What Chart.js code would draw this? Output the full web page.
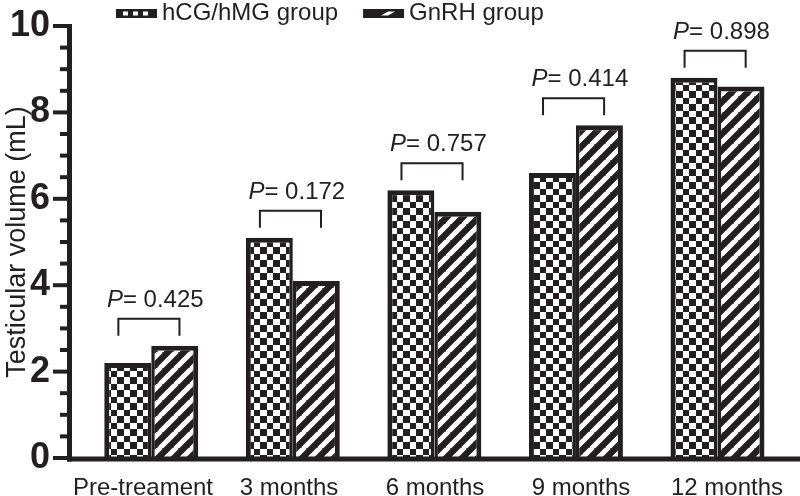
<!DOCTYPE html>
<html>
<head>
<meta charset="utf-8">
<title>Testicular volume</title>
<script src="https://cdn.jsdelivr.net/npm/chart.js@4.4.0/dist/chart.umd.min.js"></script>
<style>
    html, body { margin: 0; padding: 0; background: #fff; }
    #wrap { width: 800px; height: 496px; }
</style>
</head>
<body>
<div id="wrap"><canvas id="volumeChart"></canvas></div>
<script>
// Chart data
const timepoints = ['Pre-treament', '3 months', '6 months', '9 months', '12 months'];
const seriesNames = ['hCG/hMG group', 'GnRH group'];
const hcgValues = [2.2, 5.1, 6.2, 6.6, 8.8];
const gnrhValues = [2.6, 4.1, 5.7, 7.7, 8.6];
const pValues = ['0.425', '0.172', '0.757', '0.414', '0.898'];

const ink = '#231f20';
const fontFamily = "'Liberation Sans', Arial, sans-serif";

document.addEventListener('DOMContentLoaded', function() {
    const canvas = document.getElementById('volumeChart');
    const ctx = canvas.getContext('2d');

    // checkerboard fill for the hCG/hMG bars
    function makeChecker() {
        const c = document.createElement('canvas');
        c.width = 13; c.height = 13;
        const g = c.getContext('2d');
        g.fillStyle = '#fff';
        g.fillRect(0, 0, 13, 13);
        g.fillStyle = ink;
        g.fillRect(0, 0, 7, 7);
        g.fillRect(7, 7, 6, 6);
        return ctx.createPattern(c, 'repeat');
    }

    // diagonal stripes for the GnRH bars
    function makeHatch() {
        const s = 16;
        const c = document.createElement('canvas');
        c.width = s; c.height = s;
        const g = c.getContext('2d');
        g.fillStyle = ink;
        g.fillRect(0, 0, s, s);
        g.strokeStyle = '#fff';
        g.lineWidth = 5;
        g.beginPath();
        [-s, 0, s].forEach(function(o) {
            g.moveTo(o - 1, s + 1);
            g.lineTo(o + s + 1, -1);
        });
        g.stroke();
        return ctx.createPattern(c, 'repeat');
    }

    const checker = makeChecker();
    const hatch = makeHatch();

    const prismAxes = {
        id: 'prismAxes',
        afterDatasetsDraw(chart) {
            const c = chart.ctx;
            const a = chart.chartArea;
            const y = chart.scales.y;
            c.save();
            c.strokeStyle = ink;
            c.fillStyle = ink;

            // y ticks, major every 2 and minor every 0.5
            c.lineWidth = 4;
            for (let v = y.min; v <= y.max; v += 0.5) {
                const py = y.getPixelForValue(v);
                const len = v % 2 === 0 ? 17 : 10;
                c.beginPath();
                c.moveTo(a.left - len, py);
                c.lineTo(a.left, py);
                c.stroke();
            }

            // axis lines
            c.lineWidth = 5;
            c.beginPath();
            c.moveTo(a.left - 0.5, a.top - 2);
            c.lineTo(a.left - 0.5, a.bottom + 3.5);
            c.stroke();
            c.beginPath();
            c.moveTo(a.left - 3, a.bottom + 1);
            c.lineTo(a.right, a.bottom + 1);
            c.stroke();

            // significance brackets
            const m0 = chart.getDatasetMeta(0);
            const m1 = chart.getDatasetMeta(1);
            pValues.forEach(function(p, i) {
                const b0 = m0.data[i];
                const b1 = m1.data[i];
                const top = Math.min(b0.y, b1.y);
                const cx = (b0.x + b1.x) / 2;
                const bw = b0.width;
                const x1 = cx - 0.7 * bw;
                const x2 = cx + 0.6 * bw;
                const legBottom = top - 10;
                const lineY = legBottom - 17;

                c.lineWidth = 2;
                c.beginPath();
                c.moveTo(x1, legBottom);
                c.lineTo(x1, lineY);
                c.lineTo(x2, lineY);
                c.lineTo(x2, legBottom);
                c.stroke();

                const rest = '= ' + p;
                c.font = 'italic 24px ' + fontFamily;
                const wP = c.measureText('P').width;
                c.font = '24px ' + fontFamily;
                const wR = c.measureText(rest).width;
                const start = cx + 4 - (wP + wR) / 2;
                c.textBaseline = 'alphabetic';
                c.textAlign = 'left';
                c.font = 'italic 24px ' + fontFamily;
                c.fillText('P', start, lineY - 12);
                c.font = '24px ' + fontFamily;
                c.fillText(rest, start + wP, lineY - 12);
            });
            c.restore();
        },
        afterDraw(chart) {
            // legend on top
            const c = chart.ctx;
            c.save();
            c.font = '24px ' + fontFamily;
            c.fillStyle = ink;
            c.textBaseline = 'alphabetic';
            let x = 116;
            chart.data.datasets.forEach(function(ds, i) {
                c.fillStyle = ink;
                c.fillRect(x, 9, 41, 9);
                c.fillStyle = '#fff';
                if (i === 0) {
                    [7, 17, 27].forEach(function(dx) {
                        c.fillRect(x + dx, 11.5, 5, 4);
                    });
                } else {
                    c.beginPath();
                    c.moveTo(x + 18, 15.5);
                    c.lineTo(x + 25, 15.5);
                    c.lineTo(x + 32, 11.5);
                    c.lineTo(x + 25, 11.5);
                    c.closePath();
                    c.fill();
                }
                c.fillStyle = ink;
                c.fillText(ds.label, x + 46, 20);
                x += 46 + c.measureText(ds.label).width + 25;
            });
            c.restore();
        }
    };

    Chart.defaults.font.family = fontFamily;
    Chart.defaults.color = ink;

    try {
        new Chart(ctx, {
            type: 'bar',
            data: {
                labels: timepoints,
                datasets: [{
                    label: seriesNames[0],
                    data: hcgValues.map(function(v, i) { return { x: i, y: v }; }),
                    xAxisID: 'xb',
                    backgroundColor: checker,
                    borderColor: ink,
                    borderWidth: { top: 5, left: 5, right: 3.5, bottom: 0 },
                    borderSkipped: 'bottom'
                }, {
                    label: seriesNames[1],
                    data: gnrhValues.map(function(v, i) { return { x: i, y: v }; }),
                    xAxisID: 'xb',
                    backgroundColor: hatch,
                    borderColor: ink,
                    borderWidth: { top: 5, left: 3.5, right: 5, bottom: 0 },
                    borderSkipped: 'bottom'
                }]
            },
            options: {
                responsive: true,
                maintainAspectRatio: false,
                animation: false,
                categoryPercentage: 0.664,
                barPercentage: 1,
                layout: {
                    padding: { top: 26, left: 0, right: 0, bottom: 0 }
                },
                plugins: {
                    legend: { display: false },
                    tooltip: { enabled: false }
                },
                scales: {
                    x: {
                        type: 'category',
                        labels: timepoints,
                        offset: true,
                        grid: { display: false, drawTicks: false },
                        border: { display: false },
                        ticks: {
                            color: ink,
                            font: { size: 24 },
                            padding: 16,
                            maxRotation: 0,
                            autoSkip: false
                        },
                        afterFit: function(scale) { scale.height = 38; }
                    },
                    // hidden index axis for the bars, a little narrower than the label axis
                    xb: {
                        type: 'linear',
                        display: false,
                        offset: false,
                        min: -0.574,
                        max: 4.583,
                        afterBuildTicks: function(scale) {
                            scale.ticks = timepoints.map(function(_, i) { return { value: i }; });
                        }
                    },
                    y: {
                        min: 0,
                        max: 10,
                        ticks: {
                            stepSize: 2,
                            color: ink,
                            padding: 3,
                            font: { size: 36, weight: 'bold' }
                        },
                        grid: { display: false, drawTicks: true, tickLength: 17 },
                        border: { display: false },
                        title: {
                            display: true,
                            text: 'Testicular volume (mL)',
                            color: ink,
                            font: { size: 27 },
                            padding: { top: 1, bottom: 0 }
                        },
                        afterFit: function(scale) { scale.width = 70; }
                    }
                }
            },
            plugins: [prismAxes]
        });
    } catch (error) {
        console.error('Error initializing chart:', error);
    }
});
</script>
</body>
</html>
